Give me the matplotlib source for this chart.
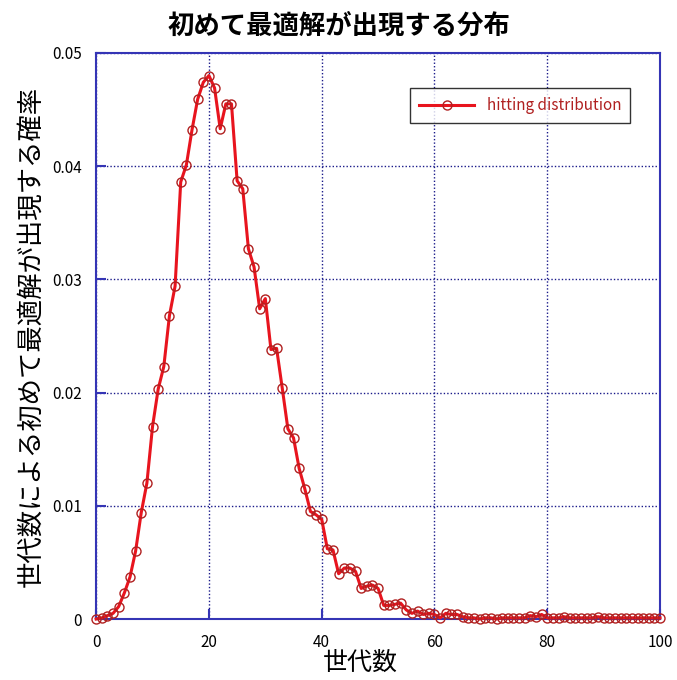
import matplotlib
matplotlib.use("Agg")
import matplotlib.pyplot as plt

plt.rcParams['font.family'] = ['Noto Sans CJK JP', 'DejaVu Sans']

# generation index and probability of first hitting the optimum
generations = list(range(101))
hit_prob = [
    0.0000, 0.0001, 0.0003, 0.0005, 0.0011, 0.0023, 0.0037, 0.0060, 0.0094, 0.0120,
    0.0170, 0.0203, 0.0223, 0.0268, 0.0294, 0.0386, 0.0401, 0.0432, 0.0459, 0.0474,
    0.0480, 0.0469, 0.0433, 0.0455, 0.0455, 0.0387, 0.0380, 0.0327, 0.0311, 0.0274,
    0.0283, 0.0238, 0.0239, 0.0204, 0.0168, 0.0160, 0.0133, 0.0115, 0.0095, 0.0092,
    0.0088, 0.0062, 0.0061, 0.0040, 0.0045, 0.0045, 0.0042, 0.0027, 0.0029, 0.0030,
    0.0027, 0.0012, 0.0012, 0.0013, 0.0014, 0.0008, 0.0005, 0.0007, 0.0004, 0.0005,
    0.0004, 0.0001, 0.0005, 0.0004, 0.0004, 0.0002, 0.0001, 0.0001, 0.0000, 0.0001,
    0.0001, 0.0000, 0.0001, 0.0001, 0.0001, 0.0001, 0.0001, 0.0003, 0.0002, 0.0004,
    0.0001, 0.0001, 0.0001, 0.0002, 0.0001, 0.0001, 0.0001, 0.0001, 0.0001, 0.0002,
    0.0001, 0.0001, 0.0001, 0.0001, 0.0001, 0.0001, 0.0001, 0.0001, 0.0001, 0.0001,
    0.0001,
]

x_ticks = [0, 20, 40, 60, 80, 100]
y_ticks = [0, 0.01, 0.02, 0.03, 0.04, 0.05]
y_tick_labels = ["0", "0.01", "0.02", "0.03", "0.04", "0.05"]

title = "初めて最適解が出現する分布"
x_label = "世代数"
y_label = "世代数による初めて最適解が出現する確率"
series_name = "hitting distribution"

axis_blue = "#3535b5"
line_red = "#e8141e"
marker_red = "#b02020"

fig = plt.figure(figsize=(6.77, 6.8), dpi=100)
ax = fig.add_axes([0.142, 0.0897, 0.833, 0.8325])

ax.plot(generations, hit_prob, color=line_red, linewidth=2.2,
        marker="o", markersize=6.5, markerfacecolor="none",
        markeredgecolor=marker_red, markeredgewidth=1.0,
        label=series_name, clip_on=False, zorder=3)

ax.set_xlim(0, 100)
ax.set_ylim(0, 0.05)
ax.set_xticks(x_ticks)
ax.set_xticklabels([str(t) for t in x_ticks])
ax.set_yticks(y_ticks)
ax.set_yticklabels(y_tick_labels)

ax.grid(True, color="#1a1a8a", linestyle=(0, (1, 1.5)), linewidth=1.0)
for sp in ax.spines.values():
    sp.set_color(axis_blue)
    sp.set_linewidth(1.5)
ax.tick_params(direction="in", length=7, width=1.5, color=axis_blue,
               labelsize=11, top=False, right=False)
ax.tick_params(axis="y", pad=10)
ax.tick_params(axis="x", pad=11)

fig.suptitle(title, x=0.5, y=0.982, fontsize=19, fontweight="bold")
ax.set_xlabel(x_label, fontsize=18, labelpad=-6)
ax.xaxis.set_label_coords(0.468, -0.055)
ax.set_ylabel(y_label, fontsize=19, labelpad=6)

leg = ax.legend(loc="upper right", bbox_to_anchor=(0.947, 0.938),
                borderaxespad=0, fontsize=11, frameon=True, fancybox=False,
                handlelength=3.6, borderpad=0.6, labelcolor=marker_red)
leg.get_frame().set_edgecolor("black")
leg.get_frame().set_linewidth(1.0)

fig.savefig("out.png", dpi=100)
